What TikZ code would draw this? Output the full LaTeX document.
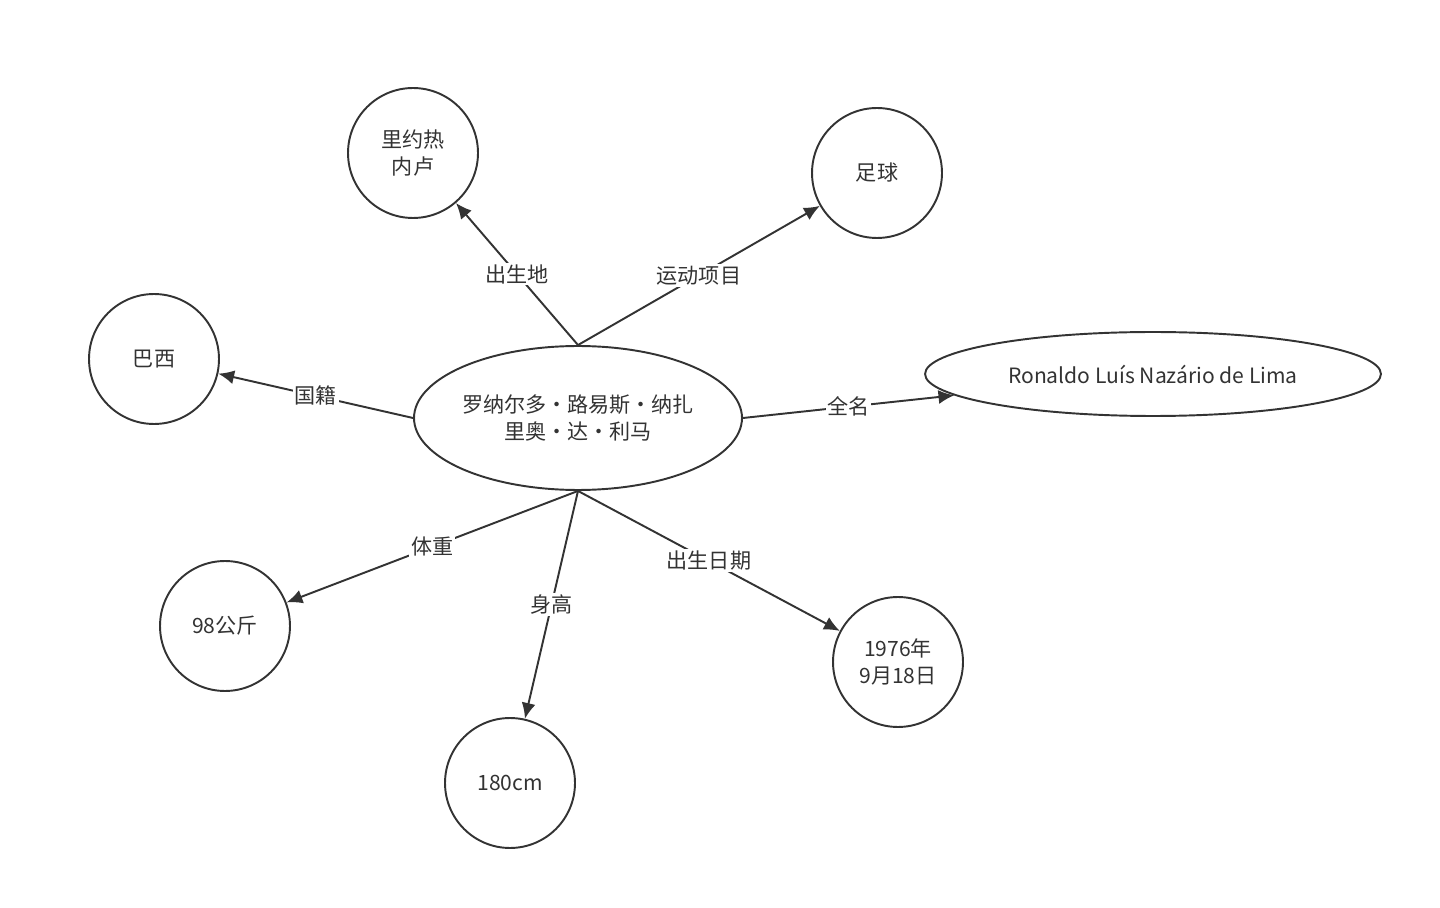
\documentclass[tikz,border=0pt]{standalone}
\usepackage{fontspec}
\setmainfont{Noto Sans CJK SC}
\usetikzlibrary{shapes.geometric,arrows.meta}
\begin{document}
\begin{tikzpicture}
    [x=0.02cm,y=-0.02cm,
    every node/.style={font=\fontsize{12}{15}\selectfont,text=black!80,align=center},
    prop/.style={circle,draw=black!80,line width=1.1pt,minimum size=2.6cm,inner sep=0pt},
    ent/.style={ellipse,draw=black!80,line width=1.1pt,inner sep=0pt},
    rel/.style={draw=black!80,line width=1.1pt,-{Latex[length=9pt,width=8pt]}},
    lbl/.style={fill=white,inner sep=1pt}]
    \useasboundingbox (0,0) rectangle (1440,908);
    \node[ent,minimum width=5.4cm,minimum height=2.88cm] (ronaldo) at (578,418) {罗纳尔多·路易斯·纳扎\\里奥·达·利马};
    \node[prop] (city) at (413,153) {里约热\\内卢};
    \node[prop] (sport) at (877,173) {足球};
    \node[prop] (country) at (154,359) {巴西};
    \node[ent,minimum width=9.12cm,minimum height=1.68cm] (fullname) at (1153,374) {Ronaldo Luís Nazário de Lima};
    \node[prop] (weight) at (225,626) {98公斤};
    \node[prop] (height) at (510,783) {180cm};
    \node[prop] (birthday) at (898,662) {1976年\\9月18日};
    % edges from the central node
    \draw[rel] (ronaldo.north) -- (city) node[lbl,midway] {出生地};
    \draw[rel] (ronaldo.north) -- (sport) node[lbl,midway] {运动项目};
    \draw[rel] (ronaldo.west) -- (country) node[lbl,midway] {国籍};
    \draw[rel] (ronaldo.east) -- (fullname) node[lbl,midway] {全名};
    \draw[rel] (ronaldo.south) -- (weight) node[lbl,midway] {体重};
    \draw[rel] (ronaldo.south) -- (height) node[lbl,midway] {身高};
    \draw[rel] (ronaldo.south) -- (birthday) node[lbl,midway] {出生日期};
\end{tikzpicture}
\end{document}
